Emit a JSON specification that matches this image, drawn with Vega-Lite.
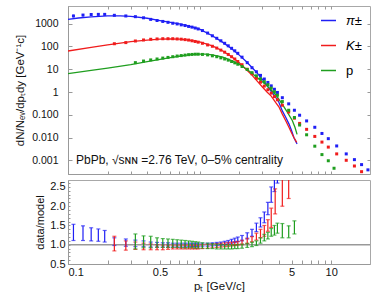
{
"$schema":"https://vega.github.io/schema/vega-lite/v6.json",
"padding":{"left":14,"top":5,"right":4,"bottom":4},
"spacing":1,
"config":{"font":"Liberation Sans","view":{"stroke":"#a8a8a8","strokeWidth":1},
"axis":{"grid":false,"domainColor":"#999999","tickColor":"#999999","tickSize":-4,"labelFont":"Liberation Sans","labelFontSize":10.5,"labelColor":"#111111","titleFont":"Liberation Sans","titleFontWeight":"normal","titleFontSize":11,"titleColor":"#111111","labelOverlap":false}},
"datasets":{
"spectra":[
{"s":"π±","pT":0.11,"v":2190,"lo":1900,"hi":2480},{"s":"π±","pT":0.13,"v":2400,"lo":2100,"hi":2700},{"s":"π±","pT":0.15,"v":2540,"lo":2250,"hi":2830},{"s":"π±","pT":0.17,"v":2570,"lo":2300,"hi":2840},{"s":"π±","pT":0.19,"v":2570,"lo":2320,"hi":2820},{"s":"π±","pT":0.225,"v":2340,"lo":2180,"hi":2500},
{"s":"π±","pT":0.275,"v":2190},{"s":"π±","pT":0.325,"v":2040},{"s":"π±","pT":0.375,"v":1820},{"s":"π±","pT":0.425,"v":1550},{"s":"π±","pT":0.475,"v":1380},{"s":"π±","pT":0.525,"v":1260},{"s":"π±","pT":0.575,"v":1150},{"s":"π±","pT":0.625,"v":1050},{"s":"π±","pT":0.675,"v":977},{"s":"π±","pT":0.725,"v":891},{"s":"π±","pT":0.775,"v":832},{"s":"π±","pT":0.825,"v":759},{"s":"π±","pT":0.875,"v":708},{"s":"π±","pT":0.925,"v":646},{"s":"π±","pT":0.975,"v":589},{"s":"π±","pT":1.05,"v":501},{"s":"π±","pT":1.15,"v":389},{"s":"π±","pT":1.25,"v":295},{"s":"π±","pT":1.35,"v":229},{"s":"π±","pT":1.45,"v":178},{"s":"π±","pT":1.55,"v":138},{"s":"π±","pT":1.65,"v":107},{"s":"π±","pT":1.75,"v":83.2},{"s":"π±","pT":1.85,"v":64.6},{"s":"π±","pT":1.95,"v":50.1},{"s":"π±","pT":2.1,"v":33.9},{"s":"π±","pT":2.3,"v":19.5},{"s":"π±","pT":2.5,"v":11.7},{"s":"π±","pT":2.7,"v":7.76},{"s":"π±","pT":2.9,"v":5.37},{"s":"π±","pT":3.1,"v":3.72},{"s":"π±","pT":3.3,"v":2.63},{"s":"π±","pT":3.5,"v":1.86},{"s":"π±","pT":3.7,"v":1.32},{"s":"π±","pT":3.9,"v":0.955},{"s":"π±","pT":4.25,"v":0.562},{"s":"π±","pT":4.75,"v":0.302},{"s":"π±","pT":5.25,"v":0.158},{"s":"π±","pT":5.75,"v":0.0955},{"s":"π±","pT":6.5,"v":0.0537},{"s":"π±","pT":7.5,"v":0.0282},{"s":"π±","pT":8.5,"v":0.0151},{"s":"π±","pT":9.5,"v":0.00891},{"s":"π±","pT":11,"v":0.00427},{"s":"π±","pT":13,"v":0.00191},{"s":"π±","pT":15,"v":0.00107},{"s":"π±","pT":17,"v":0.000646},{"s":"π±","pT":19,"v":0.00038},
{"s":"K±","pT":0.225,"v":132},{"s":"K±","pT":0.275,"v":148},{"s":"K±","pT":0.325,"v":174},{"s":"K±","pT":0.375,"v":193},{"s":"K±","pT":0.425,"v":207},{"s":"K±","pT":0.475,"v":214},{"s":"K±","pT":0.525,"v":219},{"s":"K±","pT":0.575,"v":219},{"s":"K±","pT":0.625,"v":219},{"s":"K±","pT":0.675,"v":214},{"s":"K±","pT":0.725,"v":209},{"s":"K±","pT":0.775,"v":200},{"s":"K±","pT":0.825,"v":191},{"s":"K±","pT":0.875,"v":178},{"s":"K±","pT":0.925,"v":166},{"s":"K±","pT":0.975,"v":155},{"s":"K±","pT":1.05,"v":138},{"s":"K±","pT":1.15,"v":117},{"s":"K±","pT":1.25,"v":102},{"s":"K±","pT":1.35,"v":85.1},{"s":"K±","pT":1.45,"v":69.2},{"s":"K±","pT":1.55,"v":56.2},{"s":"K±","pT":1.65,"v":44.7},{"s":"K±","pT":1.75,"v":35.5},{"s":"K±","pT":1.85,"v":28.2},{"s":"K±","pT":1.95,"v":21.9},{"s":"K±","pT":2.1,"v":15.8},{"s":"K±","pT":2.3,"v":10.0},{"s":"K±","pT":2.5,"v":6.31},{"s":"K±","pT":2.7,"v":3.98},{"s":"K±","pT":2.9,"v":2.69},{"s":"K±","pT":3.1,"v":1.82},{"s":"K±","pT":3.3,"v":1.26},{"s":"K±","pT":3.5,"v":0.891},{"s":"K±","pT":3.7,"v":0.631},{"s":"K±","pT":3.9,"v":0.457},{"s":"K±","pT":4.25,"v":0.263},{"s":"K±","pT":4.75,"v":0.132},{"s":"K±","pT":5.25,"v":0.0708},{"s":"K±","pT":5.75,"v":0.0417},{"s":"K±","pT":6.5,"v":0.0229},{"s":"K±","pT":7.5,"v":0.0112},{"s":"K±","pT":8.5,"v":0.00631},{"s":"K±","pT":9.5,"v":0.0038},{"s":"K±","pT":11,"v":0.00191},{"s":"K±","pT":13,"v":0.001},{"s":"K±","pT":15,"v":0.000562},{"s":"K±","pT":17,"v":0.000316},
{"s":"p","pT":0.325,"v":19.5},{"s":"p","pT":0.375,"v":22.9},{"s":"p","pT":0.425,"v":25.7},{"s":"p","pT":0.475,"v":28.2},{"s":"p","pT":0.525,"v":30.9},{"s":"p","pT":0.575,"v":33.1},{"s":"p","pT":0.625,"v":35.5},{"s":"p","pT":0.675,"v":38.0},{"s":"p","pT":0.725,"v":39.8},{"s":"p","pT":0.775,"v":41.7},{"s":"p","pT":0.825,"v":43.7},{"s":"p","pT":0.875,"v":44.7},{"s":"p","pT":0.925,"v":45.7},{"s":"p","pT":0.975,"v":45.7},{"s":"p","pT":1.05,"v":44.7},{"s":"p","pT":1.15,"v":42.7},{"s":"p","pT":1.25,"v":38.9},{"s":"p","pT":1.35,"v":35.5},{"s":"p","pT":1.45,"v":31.6},{"s":"p","pT":1.55,"v":28.2},{"s":"p","pT":1.65,"v":25.1},{"s":"p","pT":1.75,"v":21.9},{"s":"p","pT":1.85,"v":19.1},{"s":"p","pT":1.95,"v":16.6},{"s":"p","pT":2.1,"v":13.2},{"s":"p","pT":2.3,"v":9.77},{"s":"p","pT":2.5,"v":7.08},{"s":"p","pT":2.7,"v":5.13},{"s":"p","pT":2.9,"v":3.8},{"s":"p","pT":3.1,"v":2.82},{"s":"p","pT":3.3,"v":2.09},{"s":"p","pT":3.5,"v":1.48},{"s":"p","pT":3.7,"v":1.02},{"s":"p","pT":3.9,"v":0.724},{"s":"p","pT":4.25,"v":0.38},{"s":"p","pT":4.75,"v":0.158},{"s":"p","pT":5.25,"v":0.0759},{"s":"p","pT":5.75,"v":0.0355},{"s":"p","pT":6.5,"v":0.0132},{"s":"p","pT":7.5,"v":0.00417},{"s":"p","pT":8.5,"v":0.00178},{"s":"p","pT":9.5,"v":0.000955},{"s":"p","pT":10.5,"v":0.000447}
],
"model":[
{"s":"π±","pT":0.1,"v":1550},{"s":"π±","pT":0.12,"v":1780},{"s":"π±","pT":0.15,"v":2000},{"s":"π±","pT":0.2,"v":2190},{"s":"π±","pT":0.25,"v":2210},{"s":"π±","pT":0.3,"v":2090},{"s":"π±","pT":0.4,"v":1740},{"s":"π±","pT":0.5,"v":1380},{"s":"π±","pT":0.6,"v":1150},{"s":"π±","pT":0.7,"v":977},{"s":"π±","pT":0.8,"v":832},{"s":"π±","pT":0.9,"v":692},{"s":"π±","pT":1.0,"v":575},{"s":"π±","pT":1.25,"v":295},{"s":"π±","pT":1.5,"v":151},{"s":"π±","pT":1.75,"v":79.4},{"s":"π±","pT":2.0,"v":41.7},{"s":"π±","pT":2.25,"v":22.4},{"s":"π±","pT":2.5,"v":12.0},{"s":"π±","pT":2.75,"v":6.61},{"s":"π±","pT":3.0,"v":3.55},{"s":"π±","pT":3.25,"v":1.91},{"s":"π±","pT":3.5,"v":1.07},{"s":"π±","pT":3.79,"v":0.575},{"s":"π±","pT":4.0,"v":0.355},{"s":"π±","pT":4.25,"v":0.148},{"s":"π±","pT":4.5,"v":0.0794},{"s":"π±","pT":4.78,"v":0.0389},{"s":"π±","pT":5.0,"v":0.02},{"s":"π±","pT":5.2,"v":0.01},{"s":"π±","pT":5.5,"v":0.00525},
{"s":"K±","pT":0.1,"v":63.1},{"s":"K±","pT":0.15,"v":91.2},{"s":"K±","pT":0.2,"v":117},{"s":"K±","pT":0.25,"v":141},{"s":"K±","pT":0.3,"v":162},{"s":"K±","pT":0.4,"v":191},{"s":"K±","pT":0.5,"v":209},{"s":"K±","pT":0.6,"v":214},{"s":"K±","pT":0.7,"v":209},{"s":"K±","pT":0.8,"v":195},{"s":"K±","pT":0.9,"v":178},{"s":"K±","pT":1.0,"v":158},{"s":"K±","pT":1.25,"v":107},{"s":"K±","pT":1.5,"v":63.1},{"s":"K±","pT":1.75,"v":35.5},{"s":"K±","pT":2.0,"v":19.1},{"s":"K±","pT":2.25,"v":10},{"s":"K±","pT":2.5,"v":5.5},{"s":"K±","pT":2.75,"v":2.95},{"s":"K±","pT":3.0,"v":1.66},{"s":"K±","pT":3.25,"v":1.0},{"s":"K±","pT":3.5,"v":0.66},{"s":"K±","pT":3.79,"v":0.339},{"s":"K±","pT":4.0,"v":0.224},{"s":"K±","pT":4.25,"v":0.107},{"s":"K±","pT":4.5,"v":0.0562},{"s":"K±","pT":4.78,"v":0.0275},{"s":"K±","pT":5.0,"v":0.0158},{"s":"K±","pT":5.2,"v":0.01},{"s":"K±","pT":5.46,"v":0.00617},
{"s":"p","pT":0.1,"v":6.46},{"s":"p","pT":0.15,"v":8.91},{"s":"p","pT":0.2,"v":11.2},{"s":"p","pT":0.3,"v":15.8},{"s":"p","pT":0.4,"v":21.4},{"s":"p","pT":0.5,"v":26.9},{"s":"p","pT":0.6,"v":32.4},{"s":"p","pT":0.7,"v":37.2},{"s":"p","pT":0.8,"v":41.7},{"s":"p","pT":0.9,"v":44.7},{"s":"p","pT":1.0,"v":45.7},{"s":"p","pT":1.1,"v":45.7},{"s":"p","pT":1.25,"v":42.7},{"s":"p","pT":1.5,"v":33.9},{"s":"p","pT":1.75,"v":24.0},{"s":"p","pT":2.0,"v":16.6},{"s":"p","pT":2.25,"v":10.5},{"s":"p","pT":2.5,"v":6.61},{"s":"p","pT":2.75,"v":4.17},{"s":"p","pT":3.0,"v":2.82},{"s":"p","pT":3.25,"v":1.86},{"s":"p","pT":3.5,"v":1.23},{"s":"p","pT":3.79,"v":0.759},{"s":"p","pT":4.25,"v":0.288},{"s":"p","pT":4.6,"v":0.141},{"s":"p","pT":5.06,"v":0.0562},{"s":"p","pT":5.3,"v":0.0282},{"s":"p","pT":5.5,"v":0.0138}
],
"ratio":[
{"s":"π±","pT":0.11,"lo":1.11,"hi":1.53},{"s":"π±","pT":0.13,"lo":1.11,"hi":1.49},{"s":"π±","pT":0.15,"lo":1.1,"hi":1.44},{"s":"π±","pT":0.17,"lo":1.09,"hi":1.41},{"s":"π±","pT":0.19,"lo":1.07,"hi":1.37},{"s":"π±","pT":0.225,"lo":0.98,"hi":1.18},{"s":"π±","pT":0.275,"lo":0.96,"hi":1.15},{"s":"π±","pT":0.325,"lo":0.95,"hi":1.12},{"s":"π±","pT":0.375,"lo":0.95,"hi":1.1},{"s":"π±","pT":0.425,"lo":0.94,"hi":1.07},{"s":"π±","pT":0.475,"lo":0.94,"hi":1.06},{"s":"π±","pT":0.525,"lo":0.94,"hi":1.05},{"s":"π±","pT":0.575,"lo":0.94,"hi":1.05},{"s":"π±","pT":0.625,"lo":0.94,"hi":1.04},{"s":"π±","pT":0.675,"lo":0.94,"hi":1.04},{"s":"π±","pT":0.725,"lo":0.94,"hi":1.04},{"s":"π±","pT":0.775,"lo":0.94,"hi":1.04},{"s":"π±","pT":0.825,"lo":0.95,"hi":1.04},{"s":"π±","pT":0.875,"lo":0.95,"hi":1.04},{"s":"π±","pT":0.925,"lo":0.95,"hi":1.04},{"s":"π±","pT":0.975,"lo":0.95,"hi":1.04},{"s":"π±","pT":1.05,"lo":0.96,"hi":1.04},{"s":"π±","pT":1.15,"lo":0.96,"hi":1.04},{"s":"π±","pT":1.25,"lo":0.97,"hi":1.05},{"s":"π±","pT":1.35,"lo":0.98,"hi":1.06},{"s":"π±","pT":1.45,"lo":0.99,"hi":1.07},{"s":"π±","pT":1.55,"lo":1.0,"hi":1.09},{"s":"π±","pT":1.65,"lo":1.02,"hi":1.11},{"s":"π±","pT":1.75,"lo":1.04,"hi":1.14},{"s":"π±","pT":1.85,"lo":1.06,"hi":1.17},{"s":"π±","pT":1.95,"lo":1.08,"hi":1.2},{"s":"π±","pT":2.1,"lo":1.1,"hi":1.24},{"s":"π±","pT":2.3,"lo":1.15,"hi":1.31},{"s":"π±","pT":2.5,"lo":1.22,"hi":1.4},{"s":"π±","pT":2.7,"lo":1.34,"hi":1.56},{"s":"π±","pT":2.9,"lo":1.46,"hi":1.7},{"s":"π±","pT":3.1,"lo":1.57,"hi":1.85},{"s":"π±","pT":3.3,"lo":1.78,"hi":2.1},{"s":"π±","pT":3.5,"lo":2.1,"hi":2.5},{"s":"π±","pT":3.7,"lo":2.38,"hi":2.9},{"s":"π±","pT":3.9,"lo":2.6,"hi":3.3},
{"s":"K±","pT":0.225,"lo":0.84,"hi":1.22},{"s":"K±","pT":0.275,"lo":0.86,"hi":1.1},{"s":"K±","pT":0.325,"lo":0.88,"hi":1.07},{"s":"K±","pT":0.375,"lo":0.87,"hi":1.04},{"s":"K±","pT":0.425,"lo":0.87,"hi":1.02},{"s":"K±","pT":0.475,"lo":0.87,"hi":1.0},{"s":"K±","pT":0.525,"lo":0.87,"hi":0.99},{"s":"K±","pT":0.575,"lo":0.88,"hi":0.99},{"s":"K±","pT":0.625,"lo":0.89,"hi":0.99},{"s":"K±","pT":0.675,"lo":0.89,"hi":0.99},{"s":"K±","pT":0.725,"lo":0.89,"hi":0.99},{"s":"K±","pT":0.775,"lo":0.89,"hi":0.99},{"s":"K±","pT":0.825,"lo":0.89,"hi":0.99},{"s":"K±","pT":0.875,"lo":0.89,"hi":0.99},{"s":"K±","pT":0.925,"lo":0.89,"hi":0.99},{"s":"K±","pT":0.975,"lo":0.89,"hi":0.99},{"s":"K±","pT":1.05,"lo":0.9,"hi":1.0},{"s":"K±","pT":1.15,"lo":0.91,"hi":1.01},{"s":"K±","pT":1.25,"lo":0.92,"hi":1.02},{"s":"K±","pT":1.35,"lo":0.93,"hi":1.03},{"s":"K±","pT":1.45,"lo":0.94,"hi":1.04},{"s":"K±","pT":1.55,"lo":0.95,"hi":1.05},{"s":"K±","pT":1.65,"lo":0.96,"hi":1.06},{"s":"K±","pT":1.75,"lo":0.97,"hi":1.07},{"s":"K±","pT":1.85,"lo":0.98,"hi":1.08},{"s":"K±","pT":1.95,"lo":0.99,"hi":1.09},{"s":"K±","pT":2.1,"lo":1.0,"hi":1.12},{"s":"K±","pT":2.3,"lo":1.03,"hi":1.17},{"s":"K±","pT":2.5,"lo":1.07,"hi":1.21},{"s":"K±","pT":2.7,"lo":1.12,"hi":1.3},{"s":"K±","pT":2.9,"lo":1.18,"hi":1.4},{"s":"K±","pT":3.1,"lo":1.22,"hi":1.5},{"s":"K±","pT":3.3,"lo":1.35,"hi":1.65},{"s":"K±","pT":3.5,"lo":1.45,"hi":1.95},{"s":"K±","pT":3.75,"lo":1.8,"hi":2.45},{"s":"K±","pT":4.25,"lo":2.0,"hi":2.7},{"s":"K±","pT":4.75,"lo":2.2,"hi":2.75},
{"s":"p","pT":0.325,"lo":0.89,"hi":1.28},{"s":"p","pT":0.375,"lo":0.92,"hi":1.23},{"s":"p","pT":0.425,"lo":0.92,"hi":1.22},{"s":"p","pT":0.475,"lo":0.93,"hi":1.18},{"s":"p","pT":0.525,"lo":0.93,"hi":1.16},{"s":"p","pT":0.575,"lo":0.93,"hi":1.15},{"s":"p","pT":0.625,"lo":0.93,"hi":1.14},{"s":"p","pT":0.675,"lo":0.93,"hi":1.13},{"s":"p","pT":0.725,"lo":0.92,"hi":1.12},{"s":"p","pT":0.775,"lo":0.92,"hi":1.11},{"s":"p","pT":0.825,"lo":0.92,"hi":1.1},{"s":"p","pT":0.875,"lo":0.92,"hi":1.09},{"s":"p","pT":0.925,"lo":0.91,"hi":1.08},{"s":"p","pT":0.975,"lo":0.91,"hi":1.07},{"s":"p","pT":1.05,"lo":0.91,"hi":1.05},{"s":"p","pT":1.15,"lo":0.9,"hi":1.04},{"s":"p","pT":1.25,"lo":0.9,"hi":1.03},{"s":"p","pT":1.35,"lo":0.89,"hi":1.02},{"s":"p","pT":1.45,"lo":0.89,"hi":1.01},{"s":"p","pT":1.55,"lo":0.89,"hi":1.0},{"s":"p","pT":1.65,"lo":0.89,"hi":1.0},{"s":"p","pT":1.75,"lo":0.89,"hi":1.0},{"s":"p","pT":1.85,"lo":0.9,"hi":1.0},{"s":"p","pT":1.95,"lo":0.9,"hi":1.01},{"s":"p","pT":2.1,"lo":0.91,"hi":1.02},{"s":"p","pT":2.3,"lo":0.93,"hi":1.04},{"s":"p","pT":2.5,"lo":0.95,"hi":1.07},{"s":"p","pT":2.7,"lo":0.98,"hi":1.1},{"s":"p","pT":2.9,"lo":1.04,"hi":1.18},{"s":"p","pT":3.1,"lo":1.1,"hi":1.27},{"s":"p","pT":3.3,"lo":1.15,"hi":1.32},{"s":"p","pT":3.5,"lo":1.22,"hi":1.42},{"s":"p","pT":3.7,"lo":1.25,"hi":1.5},{"s":"p","pT":3.9,"lo":1.3,"hi":1.56},{"s":"p","pT":4.25,"lo":1.18,"hi":1.55},{"s":"p","pT":4.75,"lo":1.18,"hi":1.49},{"s":"p","pT":5.25,"lo":1.28,"hi":1.62}
],
"note":[{"pT":0.115,"v":0.001,"label":"PbPb, √sɴɴ =2.76 TeV, 0–5% centrality"}],
"one":[{"r":1}]
},
"resolve":{"legend":{"color":"independent"}},
"vconcat":[
{"width":302,"height":168,
"resolve":{"axis":{"x":"independent","y":"independent"}},
"layer":[
{"data":{"name":"model"},"mark":{"type":"line","strokeWidth":1.3,"clip":true},
"encoding":{
"x":{"field":"pT","type":"quantitative","scale":{"type":"log","domain":[0.1,19.7],"nice":false},"axis":{"values":[0.1,0.2,0.3,0.4,0.5,0.6,0.7,0.8,0.9,1,2,3,4,5,6,7,8,9,10],"labels":false,"title":null,"tickSize":-3}},
"y":{"field":"v","type":"quantitative","scale":{"type":"log","domain":[0.00025,6000],"nice":false},"axis":{"values":[0.001,0.01,0.1,1,10,100,1000],"labelExpr":"datum.value >= 1 ? format(datum.value, 'd') : format(datum.value, '.3f')","labelOverlap":false,"labelPadding":14,"title":"dN/Nₑᵥ/dpₜdy [GeV⁻¹c]","titleFontSize":11.5,"titlePadding":6}},
"color":{"field":"s","type":"nominal","scale":{"domain":["π±","K±","p"],"range":["#1f1ff5","#f01c1c","#1f9e1f"]},
"legend":{"orient":"none","legendX":252,"legendY":6,"title":null,"symbolType":"stroke","symbolStrokeWidth":1.5,"symbolSize":225,"labelFontSize":13,"labelFont":"Liberation Sans","rowPadding":9,"labelOffset":9,"encode":{"labels":{"update":{"fontStyle":{"signal":"datum.label == 'p' ? 'normal' : 'italic'"}}}}}}}},
{"data":{"name":"spectra"},"transform":[{"filter":"isValid(datum.lo)"}],"mark":{"type":"rule","strokeWidth":1.2},
"encoding":{"x":{"field":"pT","type":"quantitative","axis":null},"y":{"field":"lo","type":"quantitative","axis":null},"y2":{"field":"hi"},"color":{"field":"s","type":"nominal"}}},
{"data":{"name":"spectra"},"mark":{"type":"square","size":9,"opacity":1,"clip":true},
"encoding":{"x":{"field":"pT","type":"quantitative","axis":{"orient":"top","values":[0.1,0.2,0.3,0.4,0.5,0.6,0.7,0.8,0.9,1,2,3,4,5,6,7,8,9,10],"labels":false,"title":null,"tickSize":-3,"domain":false}},"y":{"field":"v","type":"quantitative","axis":{"orient":"right","values":[0.001,0.01,0.1,1,10,100,1000],"labels":false,"title":null,"tickSize":-3,"domain":false}},"color":{"field":"s","type":"nominal"}}},
{"data":{"name":"note"},"mark":{"type":"text","align":"left","baseline":"middle","fontSize":12,"color":"#111111"},
"encoding":{"x":{"field":"pT","type":"quantitative","axis":null},"y":{"field":"v","type":"quantitative","axis":null},"text":{"field":"label"}}}
]},
{"width":302,"height":84,
"resolve":{"axis":{"x":"independent","y":"independent"}},
"layer":[
{"data":{"name":"one"},"mark":{"type":"rule","color":"#999999","strokeWidth":1.5},
"encoding":{"y":{"field":"r","type":"quantitative","scale":{"domain":[0.5,2.68],"nice":false,"zero":false},"axis":null}}},
{"data":{"name":"ratio"},"mark":{"type":"errorbar","ticks":{"size":4},"thickness":1.2,"clip":true},
"encoding":{
"x":{"field":"pT","type":"quantitative","scale":{"type":"log","domain":[0.1,19.7],"nice":false},"axis":{"values":[0.1,0.2,0.3,0.4,0.5,0.6,0.7,0.8,0.9,1,2,3,4,5,6,7,8,9,10],"labelExpr":"datum.value == 0.1 || datum.value == 0.5 ? format(datum.value,'.1f') : (datum.value == 1 || datum.value == 5 || datum.value == 10 ? format(datum.value,'d') : '')","labelOverlap":false,"labelPadding":6,"labelFontSize":11,"title":"pₜ [GeV/c]","titleFontSize":11.5,"titlePadding":3}},
"y":{"field":"lo","type":"quantitative","scale":{"domain":[0.5,2.68],"nice":false,"zero":false},"axis":{"values":[0.5,0.6,0.7,0.8,0.9,1.0,1.1,1.2,1.3,1.4,1.5,1.6,1.7,1.8,1.9,2.0,2.1,2.2,2.3,2.4,2.5,2.6],"labelExpr":"abs(datum.value*2 - round(datum.value*2)) < 0.001 ? format(datum.value,'.1f') : ''","labelOverlap":false,"labelPadding":5,"labelFontSize":11,"title":"data/model","titleFontSize":11,"tickSize":-2}},
"y2":{"field":"hi"},
"color":{"field":"s","type":"nominal","legend":null}}}
]}
]
}
